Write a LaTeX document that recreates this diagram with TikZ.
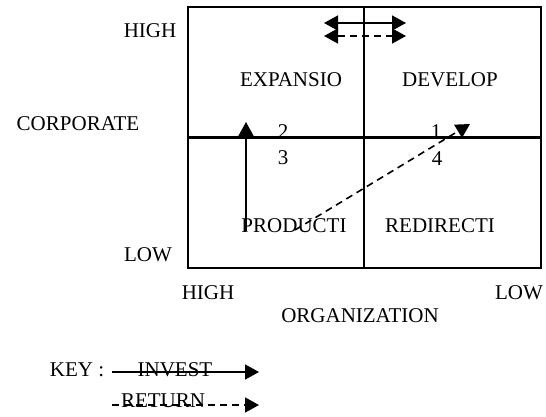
\documentclass[tikz,border=0pt]{standalone}
\usepackage{fontspec}
\setmainfont{Liberation Serif}
\usetikzlibrary{arrows.meta}
\begin{document}
\begin{tikzpicture}[x=1pt,y=-1pt,
  lbl/.style={anchor=base,inner sep=0pt,font=\fontsize{21}{24}\selectfont},
  box/.style={draw,line width=1.6pt},
  tip/.tip={Triangle[length=14pt,width=15pt]},
  arr/.style={line width=1.6pt,-tip},
  darr/.style={line width=1.6pt,dash pattern=on 7pt off 5pt,-tip},
  dbl/.style={line width=1.6pt,tip-tip},
  ddbl/.style={line width=1.6pt,dash pattern=on 7pt off 5pt,tip-tip}]
\useasboundingbox (0,0) rectangle (546,416);
% grid
\draw[box] (188,7) rectangle (541,268);
\draw[line width=1.6pt] (364,7) -- (364,268);
\draw[line width=3pt] (188,137) -- (541,137);
% axis labels
\node[lbl] (hl) at (150,37) {HIGH};
\node[lbl] (corp) at (78,130) {CORPORATE};
\node[lbl] (ll) at (148,261) {LOW};
\node[lbl] (hb) at (208,299) {HIGH};
\node[lbl] (lb) at (519,299) {LOW};
\node[lbl] (org) at (360,322) {ORGANIZATION};
% quadrant labels
\node[lbl] (exp) at (291,86) {EXPANSIO};
\node[lbl] (dev) at (450,86) {DEVELOP};
\node[lbl] (prod) at (294,232) {PRODUCTI};
\node[lbl] (red) at (440,232) {REDIRECTI};
\node[lbl] (n2) at (283,138) {2};
\node[lbl] (n1) at (436,138) {1};
\node[lbl] (n3) at (283,164) {3};
\node[lbl] (n4) at (437,165) {4};
% double arrows at top
\coordinate (da1) at (324,23);
\coordinate (da2) at (406,23);
\coordinate (db1) at (324,36);
\coordinate (db2) at (406,36);
\draw[dbl] (da1) -- (da2);
\draw[ddbl] (db1) -- (db2);
% arrows in grid
\coordinate (va1) at (246,231);
\coordinate (va2) at (246,122);
\draw[arr] (va1) -- (va2);
\coordinate (dd1) at (295,230);
\coordinate (dd2) at (470,124);
\draw[darr] (dd1) -- (dd2);
% key
\node[lbl] (key) at (77,376) {KEY :};
\node[lbl] (inv) at (175,376) {INVEST};
\node[lbl] (ret) at (163,407) {RETURN};
\coordinate (k1) at (112,372);
\coordinate (k2) at (259,372);
\coordinate (r1) at (112,405);
\coordinate (r2) at (259,405);
\draw[arr] (k1) -- (k2);
\draw[darr] (r1) -- (r2);
\end{tikzpicture}
\end{document}
